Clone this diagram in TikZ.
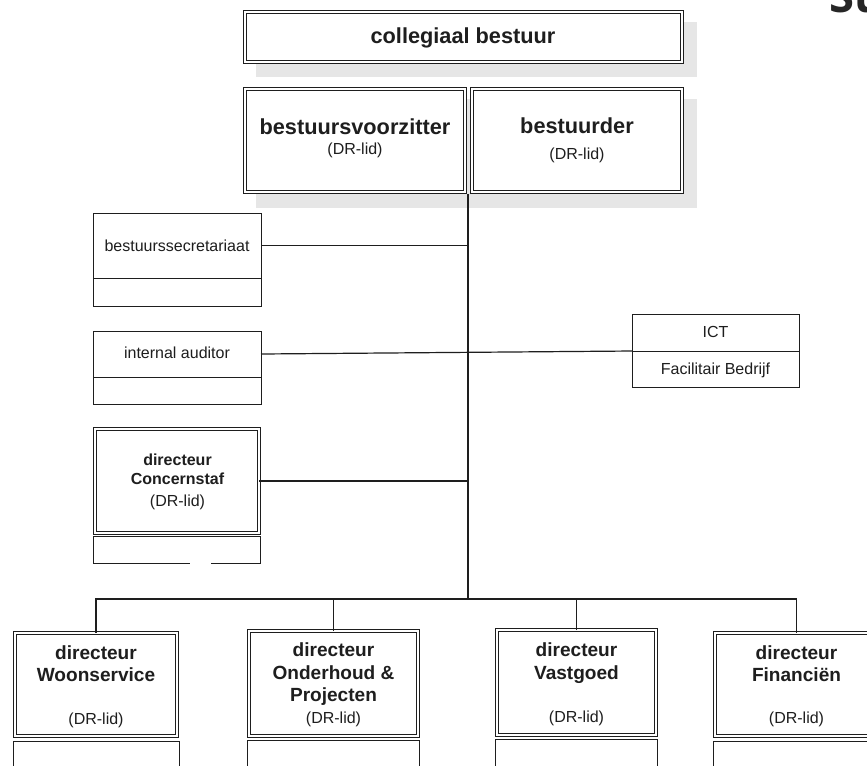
\documentclass[tikz,border=0pt]{standalone}
\usepackage{fontspec}
\setmainfont{Liberation Sans}
\newfontfamily\headfont{Open Sans}
\definecolor{ink}{HTML}{1E1E1E}
\definecolor{shadowgrey}{HTML}{E6E6E6}
\definecolor{headc}{HTML}{262626}
\newcommand\mkbox[6]{\node[#6, minimum width={(#4-#2)*0.75pt}, minimum height={(#5-#3)*0.75pt}] (#1) at ({(#2+#4)/2},{(#3+#5)/2}) {};}
\tikzset{
  dbl/.style={rectangle, draw=ink, line width=0.75pt, double=white, double distance=1.4pt, fill=white, inner sep=0pt, outer sep=0pt},
  sgl/.style={rectangle, draw=ink, line width=0.75pt, fill=white, inner sep=0pt, outer sep=0pt},
  conn/.style={draw=ink, line width=0.9pt},
  tbig/.style={font=\bfseries\fontsize{16.3}{19}\selectfont, text=ink, inner sep=0pt, text height=11.7pt, text depth=0pt},
  tmid/.style={font=\bfseries\fontsize{14.3}{17}\selectfont, text=ink, inner sep=0pt, text height=10.2pt, text depth=0pt},
  tsmb/.style={font=\bfseries\fontsize{12}{14}\selectfont, text=ink, inner sep=0pt, text height=8.6pt, text depth=0pt},
  tsm/.style={font=\fontsize{12}{14}\selectfont, text=ink, inner sep=0pt, text height=8.6pt, text depth=0pt}
}
\begin{document}
\begin{tikzpicture}[x=0.75pt, y=-0.75pt]
\useasboundingbox (0,0) rectangle (867,765);
\fill[white] (0,0) rectangle (867,765);
\clip (0,0) rectangle (867,765);

% heading fragment
\node[anchor=base west, inner sep=0pt, font=\headfont\bfseries\fontsize{34}{40}\selectfont, text=headc] (su) at (829,12.5) {Su};

% shadows
\fill[shadowgrey] (256,22) rectangle (697,77);
\fill[shadowgrey] (256,99) rectangle (697,208);

% top rows
\mkbox{cb}{245}{12}{682}{62}{dbl}
\node[tbig] (cbt) at (463,36) {collegiaal bestuur};
\mkbox{bvz}{245}{89}{465}{192}{dbl}
\mkbox{bd}{472}{89}{682}{192}{dbl}
\node[tbig] (bvzt) at (355,127) {bestuursvoorzitter};
\node[tsm] (bvzd) at (355,148.5) {(DR-lid)};
\node[tbig] (bdt) at (577,126) {bestuurder};
\node[tsm] (bdd) at (577,153.5) {(DR-lid)};

% staff boxes
\mkbox{bsec}{93.5}{213}{261}{278}{sgl}
\mkbox{bsecl}{93.5}{278}{261}{306}{sgl}
\node[tsm] (bsect) at (177,246) {bestuurssecretariaat};
\mkbox{ia}{93.5}{331}{261}{377}{sgl}
\mkbox{ial}{93.5}{377}{261}{404}{sgl}
\node[tsm] (iat) at (177,353) {internal auditor};
\mkbox{csl}{93.8}{536}{260.5}{563}{sgl}
\mkbox{cs}{95.3}{429}{259}{533}{dbl}
\node[tsmb] (cst1) at (177.5,460) {directeur};
\node[tsmb] (cst2) at (177.5,479) {Concernstaf};
\node[tsm] (cst3) at (177.5,500.5) {(DR-lid)};
\draw[white, line width=1.6pt] (190,563) -- (211,563);

\mkbox{ict}{632.5}{314}{799}{351}{sgl}
\mkbox{fb}{632.5}{351}{799}{387}{sgl}
\node[tsm] (ictt) at (715.5,332) {ICT};
\node[tsm] (fbt) at (715.5,369) {Facilitair Bedrijf};

% line directors
\mkbox{wsl}{13}{741}{179}{790}{sgl}
\mkbox{ws}{14.8}{632.7}{177}{736}{dbl}
\mkbox{onl}{247.5}{740}{419.5}{790}{sgl}
\mkbox{on}{249}{631}{418}{736}{dbl}
\mkbox{vgl}{495.5}{739}{657.5}{790}{sgl}
\mkbox{vg}{497}{630}{656}{735}{dbl}
\mkbox{finl}{713.5}{741}{880}{790}{sgl}
\mkbox{fin}{715}{632.7}{878}{736}{dbl}

\node[tmid] (ws1) at (96,652.5) {directeur};
\node[tmid] (ws2) at (96,675) {Woonservice};
\node[tsm] (ws3) at (96,718.5) {(DR-lid)};
\node[tmid] (on1) at (333.5,650) {directeur};
\node[tmid] (on2) at (333.5,672.5) {Onderhoud \&};
\node[tmid] (on3) at (333.5,695) {Projecten};
\node[tsm] (on4) at (333.5,717.5) {(DR-lid)};
\node[tmid] (vg1) at (576.5,650) {directeur};
\node[tmid] (vg2) at (576.5,673) {Vastgoed};
\node[tsm] (vg3) at (576.5,716.5) {(DR-lid)};
\node[tmid] (fin1) at (796.5,652.5) {directeur};
\node[tmid] (fin2) at (796.5,675) {Financiën};
\node[tsm] (fin3) at (796.5,718) {(DR-lid)};

% connectors
\coordinate (trunktop) at (468,194);
\coordinate (bus) at (468,599);
\draw[conn] (trunktop) -- (bus);
\draw[conn] (bsec.east) -- (bsec.east -| trunktop);
\draw[conn] (ia.east) -- (ict.south west);
\draw[conn] (cs.east) -- (cs.east -| trunktop);
\draw[conn] (ws.north) |- (bus) -| (fin.north);
\draw[conn] (on.north) -- (on.north |- bus);
\draw[conn] (vg.north) -- (vg.north |- bus);
\end{tikzpicture}
\end{document}
